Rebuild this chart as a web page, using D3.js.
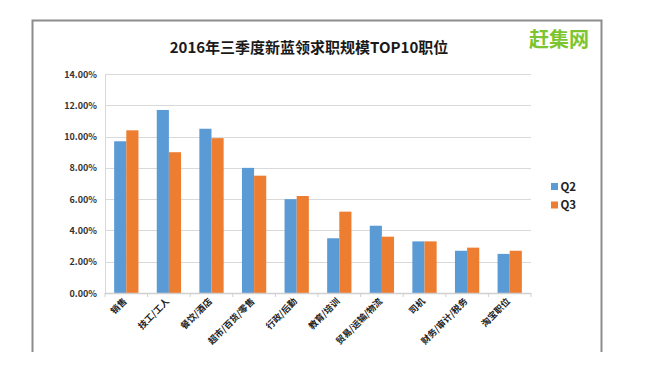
<!DOCTYPE html>
<html>
<head>
<meta charset="utf-8">
<script src="https://cdn.jsdelivr.net/npm/d3@7"></script>
<style>
  body { margin: 0; background: #fff; }
  svg { display: block; font-family: "Noto Sans CJK SC", "DejaVu Sans", sans-serif; }
</style>
</head>
<body>
<div id="chart"></div>
<script>
var categories = ["销售", "技工/工人", "餐饮/酒店", "超市/百货/零售", "行政/后勤",
    "教育/培训", "贸易/运输/物流", "司机", "财务/审计/税务", "淘宝职位"];
var seriesNames = ["Q2", "Q3"];
var q2Values = [9.7, 11.7, 10.5, 8.0, 6.0, 3.5, 4.3, 3.3, 2.7, 2.5];
var q3Values = [10.4, 9.0, 9.9, 7.5, 6.2, 5.2, 3.6, 3.3, 2.9, 2.7];
var yTicks = [0, 2, 4, 6, 8, 10, 12, 14];
var colors = ["#5b9bd5", "#ed7d31"];

var width = 670, height = 372;
var plot = {left: 105, right: 531, top: 74, bottom: 293};

var svg = d3.select("#chart")
  .append("svg")
  .attr("width", width)
  .attr("height", height);

// frame (no bottom edge in the original)
svg.append("path")
  .attr("d", "M32.5,352 L32.5,20.5 L601.5,20.5 L601.5,352")
  .attr("fill", "none")
  .attr("stroke", "#8c8c8c")
  .attr("stroke-width", 2);

svg.append("text")
  .attr("x", 309)
  .attr("y", 53)
  .attr("text-anchor", "middle")
  .attr("font-size", 15)
  .attr("font-weight", "bold")
  .attr("fill", "#1a1a1a")
  .text("2016年三季度新蓝领求职规模TOP10职位");

svg.append("text")
  .attr("x", 559)
  .attr("y", 47)
  .attr("text-anchor", "middle")
  .attr("font-size", 20)
  .attr("font-weight", "bold")
  .attr("fill", "#7dc52e")
  .text("赶集网");

var x = d3.scaleBand()
  .domain(categories)
  .range([plot.left, plot.right])
  .paddingInner(0.43)
  .paddingOuter(0.215);

var xFull = d3.scaleBand()
  .domain(categories)
  .range([plot.left, plot.right]);

var xSub = d3.scaleBand()
  .domain(seriesNames)
  .range([0, x.bandwidth()]);

var y = d3.scaleLinear()
  .domain([0, 14])
  .range([plot.bottom, plot.top]);

// gridlines
svg.append("g")
  .selectAll("line")
  .data(yTicks)
  .enter()
  .append("line")
  .attr("x1", plot.left)
  .attr("x2", plot.right)
  .attr("y1", function(d) { return Math.round(y(d)) + 0.5; })
  .attr("y2", function(d) { return Math.round(y(d)) + 0.5; })
  .attr("stroke", "#d9d9d9")
  .attr("stroke-width", 1.2);

// y axis labels
svg.append("g")
  .selectAll("text")
  .data(yTicks)
  .enter()
  .append("text")
  .attr("x", 97)
  .attr("y", function(d) { return y(d) + 3.5; })
  .attr("text-anchor", "end")
  .attr("font-size", 9)
  .attr("font-weight", "bold")
  .attr("fill", "#333")
  .text(function(d) { return d.toFixed(2) + "%"; });

svg.append("line")
  .attr("x1", plot.left + 0.5)
  .attr("x2", plot.left + 0.5)
  .attr("y1", plot.top)
  .attr("y2", plot.bottom)
  .attr("stroke", "#d9d9d9");

// bars
var data = [q2Values, q3Values];
data.forEach(function(values, si) {
  svg.append("g")
    .selectAll("rect")
    .data(values)
    .enter()
    .append("rect")
    .attr("x", function(d, i) { return x(categories[i]) + xSub(seriesNames[si]); })
    .attr("y", function(d) { return y(d); })
    .attr("width", xSub.bandwidth())
    .attr("height", function(d) { return y(0) - y(d); })
    .attr("fill", colors[si]);
});

// x axis
var xAxis = svg.append("g")
  .attr("transform", "translate(0," + plot.bottom + ")");
xAxis.append("line")
  .attr("x1", plot.left)
  .attr("x2", plot.right)
  .attr("y1", 0.5)
  .attr("y2", 0.5)
  .attr("stroke", "#d0d0d0")
  .attr("stroke-width", 1.5);
xAxis.selectAll("line.tick")
  .data(categories.concat(["end"]))
  .enter()
  .append("line")
  .attr("class", "tick")
  .attr("x1", function(d, i) { return i < categories.length ? xFull(d) : plot.right; })
  .attr("x2", function(d, i) { return i < categories.length ? xFull(d) : plot.right; })
  .attr("y1", 0)
  .attr("y2", 4)
  .attr("stroke", "#d0d0d0");

xAxis.selectAll("text")
  .data(categories)
  .enter()
  .append("text")
  .attr("transform", function(d) {
    return "translate(" + (xFull(d) + xFull.bandwidth() / 2 + 1) + ",9) rotate(-45)";
  })
  .attr("text-anchor", "end")
  .attr("font-size", 9)
  .attr("font-weight", "bold")
  .attr("fill", "#222")
  .text(function(d) { return d; });

// legend
var legend = svg.append("g")
  .selectAll("g")
  .data(seriesNames)
  .enter()
  .append("g")
  .attr("transform", function(d, i) { return "translate(551," + (183 + i * 18.5) + ")"; });
legend.append("rect")
  .attr("width", 7)
  .attr("height", 7)
  .attr("fill", function(d, i) { return colors[i]; });
legend.append("text")
  .attr("x", 9.5)
  .attr("y", 7.5)
  .attr("font-size", 11.5)
  .attr("font-weight", "bold")
  .attr("fill", "#222")
  .text(function(d) { return d; });
</script>
</body>
</html>
